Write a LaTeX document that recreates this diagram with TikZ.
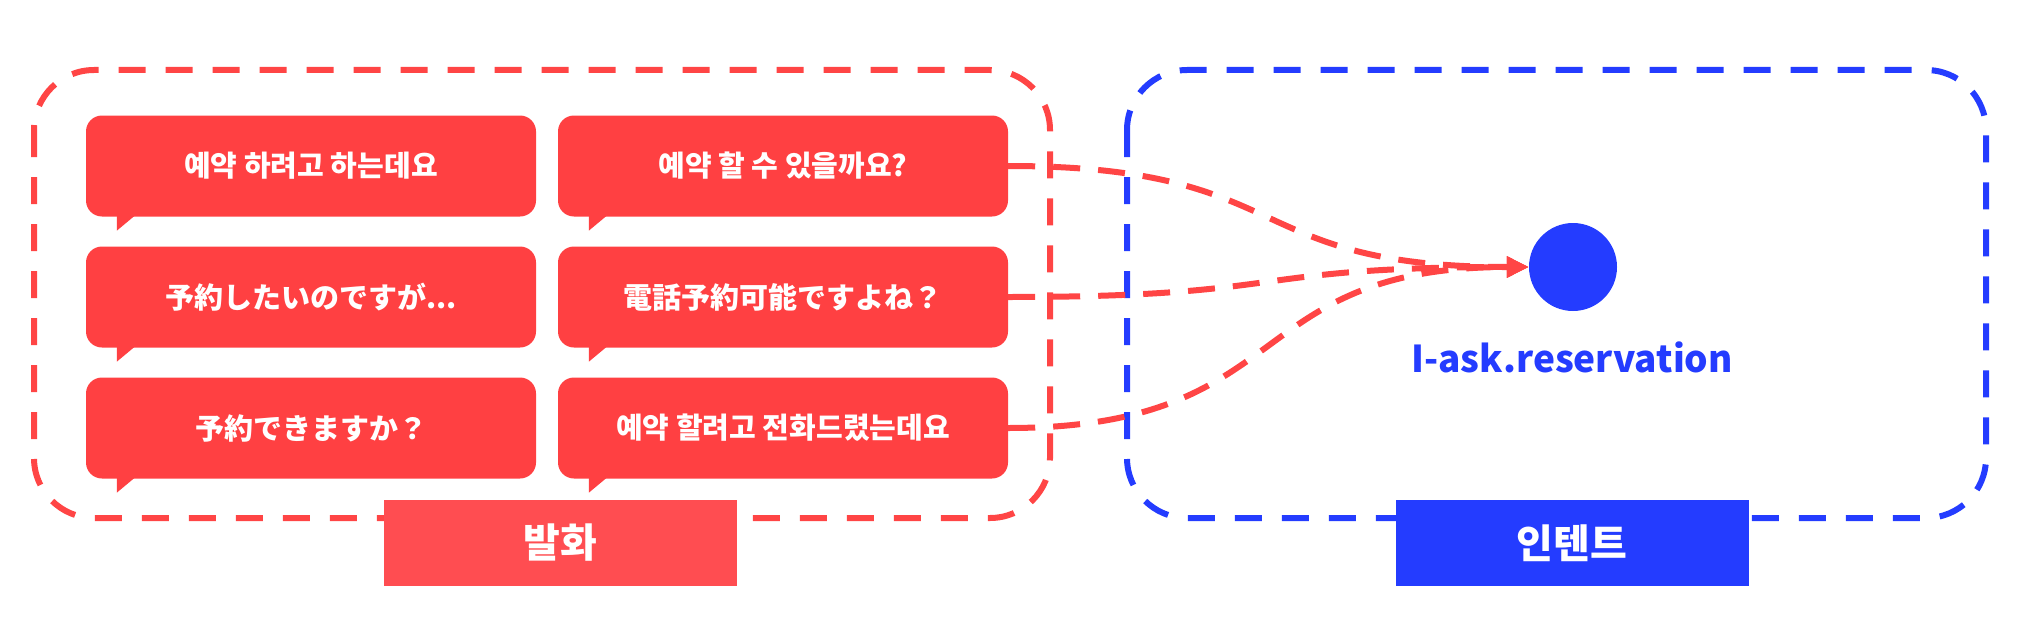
\documentclass[tikz,border=0pt]{standalone}
\usepackage{fontspec}
\setmainfont{Noto Sans CJK KR}
\usetikzlibrary{arrows.meta,positioning}
\definecolor{bubred}{RGB}{255,64,66}
\definecolor{tagred}{RGB}{255,77,81}
\definecolor{linered}{RGB}{255,69,69}
\definecolor{intblue}{RGB}{36,60,255}
\tikzset{
  utt/.style={fill=bubred, rounded corners=16pt, minimum width=450pt, minimum height=101pt,
              inner sep=0pt, text=white, font=\fontsize{29}{33}\selectfont\bfseries},
  grp/.style={line width=6pt, dash pattern=on 27pt off 20pt, rounded corners=60pt},
  tag/.style={minimum width=353pt, minimum height=86pt, inner sep=0pt,
              text=white, font=\fontsize{40}{44}\selectfont\bfseries},
  flowarr/.style={linered, line width=6pt, dash pattern=on 27pt off 18pt,
                  -{Triangle[length=22pt,width=20pt]}},
  intdot/.style={circle, fill=intblue, minimum size=88pt, inner sep=0pt},
  intlab/.style={text=intblue, font=\fontsize{37}{41}\selectfont\bfseries},
}

\begin{document}
\begin{tikzpicture}[x=1pt, y=-1pt]
  \useasboundingbox (0,0) rectangle (2024,642);
  \draw[grp, linered] (34,70) rectangle (1050,518);
  \draw[grp, intblue] (1127,70) rectangle (1986,518);
  \node[utt] (u11) at (311,166) {예약 하려고 하는데요};
  \node[utt] (u12) at (783,166) {예약 할 수 있을까요?};
  \node[utt] (u21) at (311,297) {予約したいのですが...};
  \node[utt] (u22) at (783,297) {電話予約可能ですよね？};
  \node[utt] (u31) at (311,428) {予約できますか？};
  \node[utt] (u32) at (783,428) {예약 할려고 전화드렸는데요};
  \foreach \n in {u11,u12,u21,u22,u31,u32}
    \fill[bubred] ([xshift=31pt,yshift=1pt]\n.south west) -- ++(0,15) -- ++(18,-15) -- cycle;
  \node[intdot] (dot) at (1573,267) {};
  \node[intlab] (intname) at (1572,357) {I-ask.reservation};
  \foreach \r in {1,2,3}
    \draw[flowarr] (u\r2.east) .. controls +(290,0) and +(-290,0) .. (dot.west);
  \node[tag, fill=tagred] (utag) at (560,543) {발화};
  \node[tag, fill=intblue] (itag) at (1572,543) {인텐트};
\end{tikzpicture}
\end{document}
